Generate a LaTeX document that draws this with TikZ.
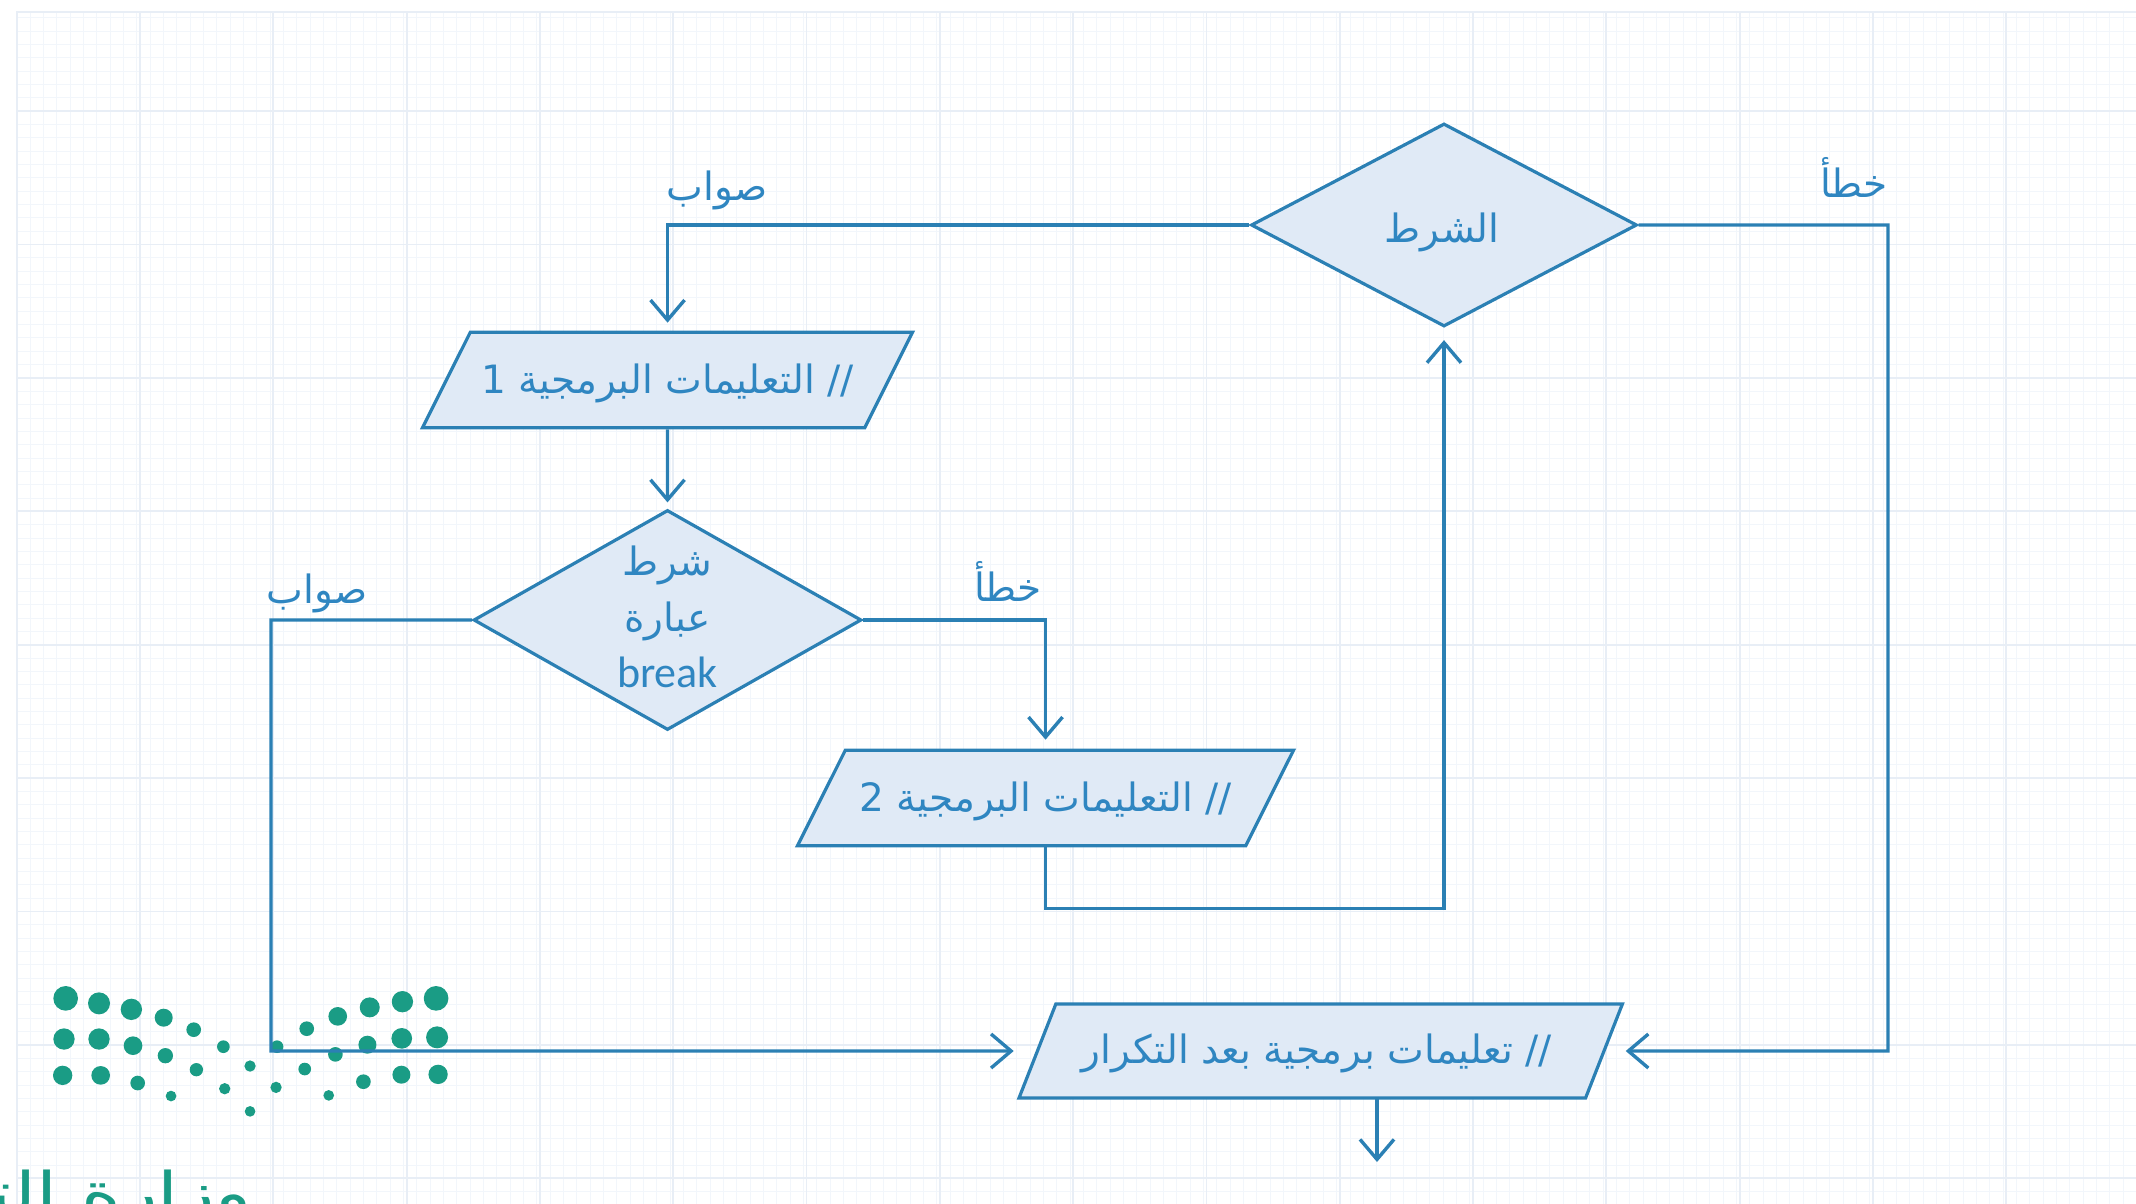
\documentclass[tikz,border=0pt]{standalone}
\usepackage{fontspec}
\usetikzlibrary{shapes.geometric,arrows.meta}
\setmainfont{Carlito}
\newfontfamily\arabicfont[Script=Arabic]{DejaVu Sans}
\TeXXeTstate=1
\definecolor{flowblue}{HTML}{2B80B4}
\definecolor{flowfill}{HTML}{E0EAF6}
\definecolor{flowtext}{HTML}{2F86C1}
\definecolor{gridminor}{HTML}{F2F6FB}
\definecolor{gridmajor}{HTML}{E8EEF6}
\definecolor{logogreen}{HTML}{1A9C85}
\tikzset{
  deci/.style={shape=diamond,aspect=1.75,inner sep=0pt,draw=flowblue,fill=flowfill,line width=1.6pt,text=flowtext,align=center},
  iobox/.style={shape=trapezium,trapezium stretches body=true,inner sep=0pt,text depth=0pt,draw=flowblue,fill=flowfill,line width=1.6pt,text=flowtext},
  arlabel/.style={text=flowtext,inner sep=0pt},
  link/.style={draw=flowblue,line width=1.7pt},
  linkarrow/.style={link,-{Straight Barb[length=10pt,width=17pt,line width=1.7pt]}},
  dot/.style={fill=logogreen,draw=none}
}
\newcommand{\artext}[1]{\arabicfont\beginR #1\endR}
\newcommand{\lifted}[1]{\raisebox{17.3pt}[0pt][0pt]{#1}}
\begin{document}
\begin{tikzpicture}[x=0.5pt,y=-0.5pt]
\useasboundingbox (0,0) rectangle (2136,1204);
\clip (0,0) rectangle (2136,1204);
% graph paper
\foreach \k in {0,...,159} {\draw[gridminor,line width=0.5pt] ({17+13.33*\k},12) -- ({17+13.33*\k},1204);}
\foreach \k in {0,...,89} {\draw[gridminor,line width=0.5pt] (17,{17.8+13.34*\k}) -- (2136,{17.8+13.34*\k});}
\foreach \k in {0,...,15} {\draw[gridmajor,line width=0.9pt] ({140+133.3*\k},12) -- ({140+133.3*\k},1204);}
\foreach \k in {0,...,8} {\draw[gridmajor,line width=0.9pt] (17,{111+133.4*\k}) -- (2136,{111+133.4*\k});}
\draw[gridmajor,line width=0.9pt] (17,1204) -- (17,12) -- (2136,12);
% logo dots (zoom px / 3)
\begin{scope}[shift={(0,940)},x=0.1667pt,y=-0.1667pt]
\foreach \x/\y/\r in {197/175/37,297/190/33,394/208/32,491/233/27,581/269/22,670/320/19,750/378/17,828/442/17,914/387/19,1006/343/22,1102/314/27,1205/295/31,1311/292/33,1308/175/37,1207/185/32,1109/202/30,1013/229/28,920/266/22,831/320/19,192/297/32,297/297/32,399/317/28,496/347/23,589/389/20,674/446/17,750/514/16,188/406/29,302/406/28,413/429/22,513/468/16,1314/403/29,1204/404/27,1090/425/22,986/466/16}
  {\fill[dot] (\x,\y) circle[radius=\r*0.1667pt];}
\end{scope}
\node[anchor=base east,inner sep=0pt,text=logogreen,font=\fontsize{28pt}{28pt}\selectfont] (logotext) at (252,1212) {\scalebox{1.35}[1]{\artext{وزارة التعليم}}};
% nodes
\node[deci,minimum width=193pt,minimum height=101.5pt,font=\fontsize{19.5pt}{24pt}\selectfont] (cond) at (1444,225) {\raisebox{-8.5pt}[0pt][0pt]{\artext{الشرط}}\hspace{2pt}};
\node[iobox,text height=47.7pt,trapezium left angle=63.4,trapezium right angle=116.6,minimum width=245pt,font=\fontsize{19.5pt}{24pt}\selectfont] (p1) at (667.5,380) {\lifted{\artext{// التعليمات البرمجية 1}}};
\node[deci,minimum width=194pt,minimum height=110pt,font=\fontsize{19.5pt}{28pt}\selectfont] (d2) at (667.5,620) {\artext{شرط}\\\artext{عبارة}\\{\rmfamily\fontsize{22pt}{28pt}\selectfont break\rule[-3pt]{0pt}{3pt}}};
\node[iobox,text height=47.7pt,trapezium left angle=63.4,trapezium right angle=116.6,minimum width=248pt,font=\fontsize{19.5pt}{24pt}\selectfont] (p2) at (1045.5,798) {\lifted{\artext{// التعليمات البرمجية 2}}};
\node[iobox,text height=47pt,trapezium left angle=68.6,trapezium right angle=111.4,minimum width=301.7pt,font=\fontsize{19.5pt}{24pt}\selectfont] (p3) at (1320.7,1051) {\lifted{\artext{// تعليمات برمجية بعد التكرار}\hspace{4pt}}};
% labels
\node[arlabel,font=\fontsize{19.5pt}{24pt}\selectfont] (l1) at (717,190) {\artext{صواب}};
\node[arlabel,font=\fontsize{19.5pt}{24pt}\selectfont] (l2) at (1854,177) {\artext{خطأ}};
\node[arlabel,font=\fontsize{19.5pt}{24pt}\selectfont] (l3) at (317,593) {\artext{صواب}};
\node[arlabel,font=\fontsize{19.5pt}{24pt}\selectfont] (l4) at (1008,581) {\artext{خطأ}};
% routing points
\coordinate (lc) at (271,1051);
\coordinate (rc) at (1888,1051);
\coordinate (bend) at (1444,908.6);
\coordinate (outa) at (1377,1098);
\coordinate (outb) at (1377,1162);
% connectors
\draw[linkarrow,shorten >=4pt] (cond.west) -| (p1.north);
\draw[linkarrow,shorten >=3pt] (p1.south) -- (d2.north);
\draw[linkarrow,shorten >=4.5pt] (d2.east) -| (p2.north);
\draw[linkarrow,shorten >=11pt] (d2.west) -| (lc) -- (p3.west);
\draw[linkarrow,shorten >=6pt] (p2.south) |- (bend) -- (cond.south);
\draw[linkarrow,shorten >=10pt] (cond.east) -| (rc) -- (p3.east);
\draw[linkarrow] (outa) -- (outb);
\end{tikzpicture}
\end{document}
